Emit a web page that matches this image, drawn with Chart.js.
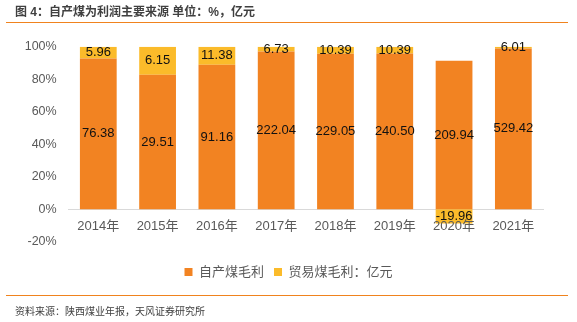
<!DOCTYPE html>
<html>
<head>
<meta charset="utf-8">
<script src="https://cdn.jsdelivr.net/npm/chart.js@4.4.1/dist/chart.umd.min.js"></script>
<style>
  html, body { margin: 0; padding: 0; background: #fff; }
  #wrap { position: relative; width: 577px; height: 322px; overflow: hidden;
          font-family: 'Liberation Sans', 'Noto Sans CJK SC', sans-serif; }
  #title { position: absolute; left: 15px; top: 5px; font-size: 12px; line-height: 14px;
           font-weight: bold; color: #404040; white-space: nowrap; }
  .rule { position: absolute; left: 6px; width: 562px; height: 1.5px; background: #F0831E; }
  #source { position: absolute; left: 15px; top: 305px; font-size: 10px; line-height: 13px;
            color: #404040; white-space: nowrap; }
  #chartBox { position: absolute; left: 0; top: 0; width: 577px; height: 322px; }
</style>
</head>
<body>
<div id="wrap">
  <div id="chartBox"><canvas id="c" width="577" height="322"></canvas></div>
  <div id="title">图 4：自产煤为利润主要来源 单位：%，亿元</div>
  <div class="rule" style="top:21.5px"></div>
  <div class="rule" style="top:294.5px"></div>
  <div id="source">资料来源：陕西煤业年报，天风证券研究所</div>
</div>
<script>
// Gross profit by source, 100 million yuan
const years = ['2014年', '2015年', '2016年', '2017年', '2018年', '2019年', '2020年', '2021年'];
const ownCoal = [76.38, 29.51, 91.16, 222.04, 229.05, 240.50, 209.94, 529.42];
const tradeCoal = [5.96, 6.15, 11.38, 6.73, 10.39, 10.39, -19.96, 6.01];
const seriesNames = ['自产煤毛利', '贸易煤毛利：亿元'];
const yTickMin = -20, yTickMax = 100, yTickStep = 20;

// Share of each year's total (absolute values), as in a 100% stacked column chart
const totals = years.map((_, i) => Math.abs(ownCoal[i]) + Math.abs(tradeCoal[i]));
const share = arr => arr.map((v, i) => v / totals[i] * 100);

const FONT = "'Liberation Sans', 'Noto Sans CJK SC', sans-serif";
Chart.defaults.font.family = FONT;

// Writes each segment's absolute value in the middle of its bar
const valueLabels = {
  id: 'valueLabels',
  afterDatasetsDraw(chart) {
    const ctx = chart.ctx;
    ctx.save();
    ctx.font = '13px ' + FONT;
    ctx.fillStyle = '#111';
    ctx.textAlign = 'center';
    ctx.textBaseline = 'middle';
    chart.data.datasets.forEach((ds, di) => {
      chart.getDatasetMeta(di).data.forEach((bar, i) => {
        const v = ds.amounts[i];
        const y = (bar.y + bar.base) / 2;
        ctx.fillText(v.toFixed(2), bar.x, y);
      });
    });
    ctx.restore();
  }
};

new Chart(document.getElementById('c'), {
  type: 'bar',
  data: {
    labels: years,
    datasets: [
      { label: seriesNames[0], data: share(ownCoal), amounts: ownCoal,
        xAxisID: 'x', yAxisID: 'y', stack: 'profit',
        backgroundColor: '#F28322', borderWidth: 0 },
      { label: seriesNames[1], data: share(tradeCoal), amounts: tradeCoal,
        xAxisID: 'x', yAxisID: 'y', stack: 'profit',
        backgroundColor: '#FBBB2A', borderWidth: 0 }
    ]
  },
  options: {
    responsive: false,
    animation: false,
    devicePixelRatio: 1,
    categoryPercentage: 1,
    barPercentage: 0.62,
    layout: { padding: { top: 46.7, left: 0, right: 0, bottom: 33.5 } },
    plugins: {
      tooltip: { enabled: false },
      legend: {
        position: 'bottom',
        labels: { boxWidth: 8, boxHeight: 8, padding: 10, color: '#595959',
                  font: { size: 13 } }
      }
    },
    scales: {
      x: {
        stacked: true,
        position: { y: 0 },
        grid: { display: false, drawTicks: false },
        border: { display: true, color: '#D9D9D9', width: 1 },
        ticks: { color: '#595959', font: { size: 13 }, padding: 9.6, z: 1 }
      },
      y: {
        stacked: true,
        position: 'left',
        min: yTickMin,
        max: yTickMax,
        grid: { display: false, drawTicks: false },
        border: { display: false },
        ticks: { stepSize: yTickStep, color: '#595959', font: { size: 12.5 }, padding: 12,
                 callback: v => v + '%' },
        afterFit(s) { s.width = 68.65; }
      },
      // empty axes that only reserve space around the plot area
      xSpacer: {
        type: 'category',
        position: 'bottom',
        grid: { display: false, drawTicks: false },
        border: { display: false },
        ticks: { display: false },
        afterFit(s) { s.height = 13.7; }
      },
      ySpacer: {
        type: 'linear',
        position: 'right',
        grid: { display: false, drawTicks: false },
        border: { display: false },
        ticks: { display: false },
        afterFit(s) { s.width = 34; }
      }
    }
  },
  plugins: [valueLabels]
});
</script>
</body>
</html>
